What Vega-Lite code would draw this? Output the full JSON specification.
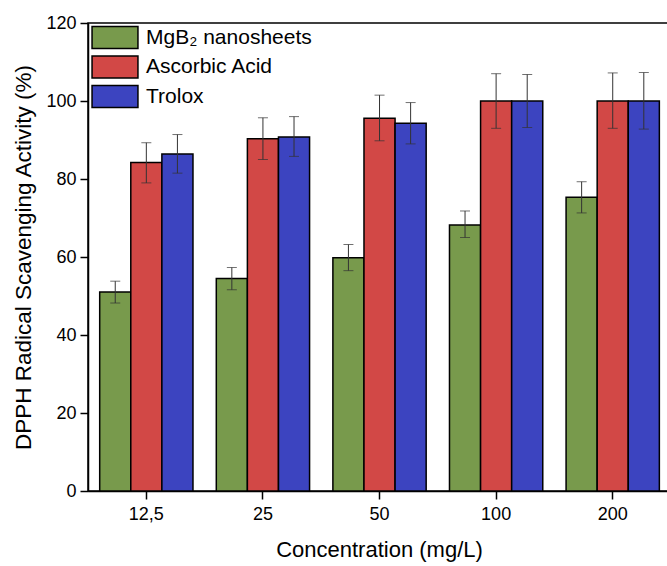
{
  "$schema": "https://vega.github.io/schema/vega-lite/v6.json",
  "autosize": {"type": "none"},
  "padding": {"left": 88, "top": 23, "right": 0, "bottom": 75},
  "width": 600,
  "height": 468,
  "config": {
    "font": "Liberation Sans",
    "view": {"stroke": "black", "strokeWidth": 1.5},
    "axis": {"grid": false, "domainColor": "black", "tickColor": "black", "labelColor": "black", "titleColor": "black", "labelFont": "Liberation Sans", "titleFont": "Liberation Sans", "titleFontWeight": "normal", "domainWidth": 1.5, "tickWidth": 1.5}
  },
  "data": {
    "values": [
      {"conc": "12,5", "series": "MgB₂ nanosheets", "value": 51.0, "lo": 48.2, "hi": 53.8},
      {"conc": "12,5", "series": "Ascorbic Acid", "value": 84.2, "lo": 79.0, "hi": 89.3},
      {"conc": "12,5", "series": "Trolox", "value": 86.4, "lo": 81.5, "hi": 91.4},
      {"conc": "25", "series": "MgB₂ nanosheets", "value": 54.5, "lo": 51.6, "hi": 57.3},
      {"conc": "25", "series": "Ascorbic Acid", "value": 90.3, "lo": 85.0, "hi": 95.7},
      {"conc": "25", "series": "Trolox", "value": 90.8, "lo": 85.8, "hi": 96.0},
      {"conc": "50", "series": "MgB₂ nanosheets", "value": 59.8, "lo": 56.5, "hi": 63.2},
      {"conc": "50", "series": "Ascorbic Acid", "value": 95.6, "lo": 89.8, "hi": 101.5},
      {"conc": "50", "series": "Trolox", "value": 94.3, "lo": 89.0, "hi": 99.6},
      {"conc": "100", "series": "MgB₂ nanosheets", "value": 68.2, "lo": 65.0, "hi": 71.8},
      {"conc": "100", "series": "Ascorbic Acid", "value": 100.0, "lo": 93.0, "hi": 107.0},
      {"conc": "100", "series": "Trolox", "value": 100.0, "lo": 93.2, "hi": 106.8},
      {"conc": "200", "series": "MgB₂ nanosheets", "value": 75.3, "lo": 71.3, "hi": 79.3},
      {"conc": "200", "series": "Ascorbic Acid", "value": 100.0, "lo": 93.0, "hi": 107.2},
      {"conc": "200", "series": "Trolox", "value": 100.0, "lo": 92.8, "hi": 107.3}
    ]
  },
  "encoding": {
    "x": {"field": "conc", "type": "nominal", "sort": ["12,5", "25", "50", "100", "200"],
      "scale": {"paddingInner": 0.2, "paddingOuter": 0.173, "align": 0.29},
      "axis": {"title": "Concentration (mg/L)", "labelAngle": 0, "labelFontSize": 18, "titleFontSize": 22, "tickSize": 8, "labelPadding": 6, "titlePadding": 16, "titleX": 291}},
    "xOffset": {"field": "series", "type": "nominal", "sort": ["MgB₂ nanosheets", "Ascorbic Acid", "Trolox"]}
  },
  "layer": [
    {
      "mark": {"type": "bar", "stroke": "black", "strokeWidth": 1.5},
      "encoding": {
        "y": {"field": "value", "type": "quantitative", "scale": {"domain": [0, 120]},
          "axis": {"title": "DPPH Radical Scavenging Activity (%)", "values": [0, 20, 40, 60, 80, 100, 120], "labelFontSize": 18, "titleFontSize": 22.5, "titlePadding": 10, "labelPadding": 4, "tickSize": 8}},
        "color": {"field": "series", "type": "nominal", "sort": ["MgB₂ nanosheets", "Ascorbic Acid", "Trolox"],
          "scale": {"range": ["#789a4c", "#d24846", "#3c44c0"]},
          "legend": {"title": null, "orient": "none", "legendX": 12.5, "legendY": 0, "symbolType": "M-1.7,-0.815H1.7V0.815H-1.7Z", "symbolSize": 729, "symbolStrokeColor": "black", "symbolStrokeWidth": 1.5, "symbolFillOpacity": 1, "labelFontSize": 21, "labelColor": "black", "labelLimit": 400, "rowPadding": 0.5, "labelOffset": 16.5}}
      }
    },
    {
      "mark": {"type": "rule", "color": "#333", "strokeWidth": 1},
      "encoding": {"y": {"field": "lo", "type": "quantitative"}, "y2": {"field": "hi"}}
    },
    {
      "mark": {"type": "tick", "color": "#333", "size": 10, "thickness": 1},
      "encoding": {"y": {"field": "lo", "type": "quantitative"}}
    },
    {
      "mark": {"type": "tick", "color": "#333", "size": 10, "thickness": 1},
      "encoding": {"y": {"field": "hi", "type": "quantitative"}}
    }
  ]
}
